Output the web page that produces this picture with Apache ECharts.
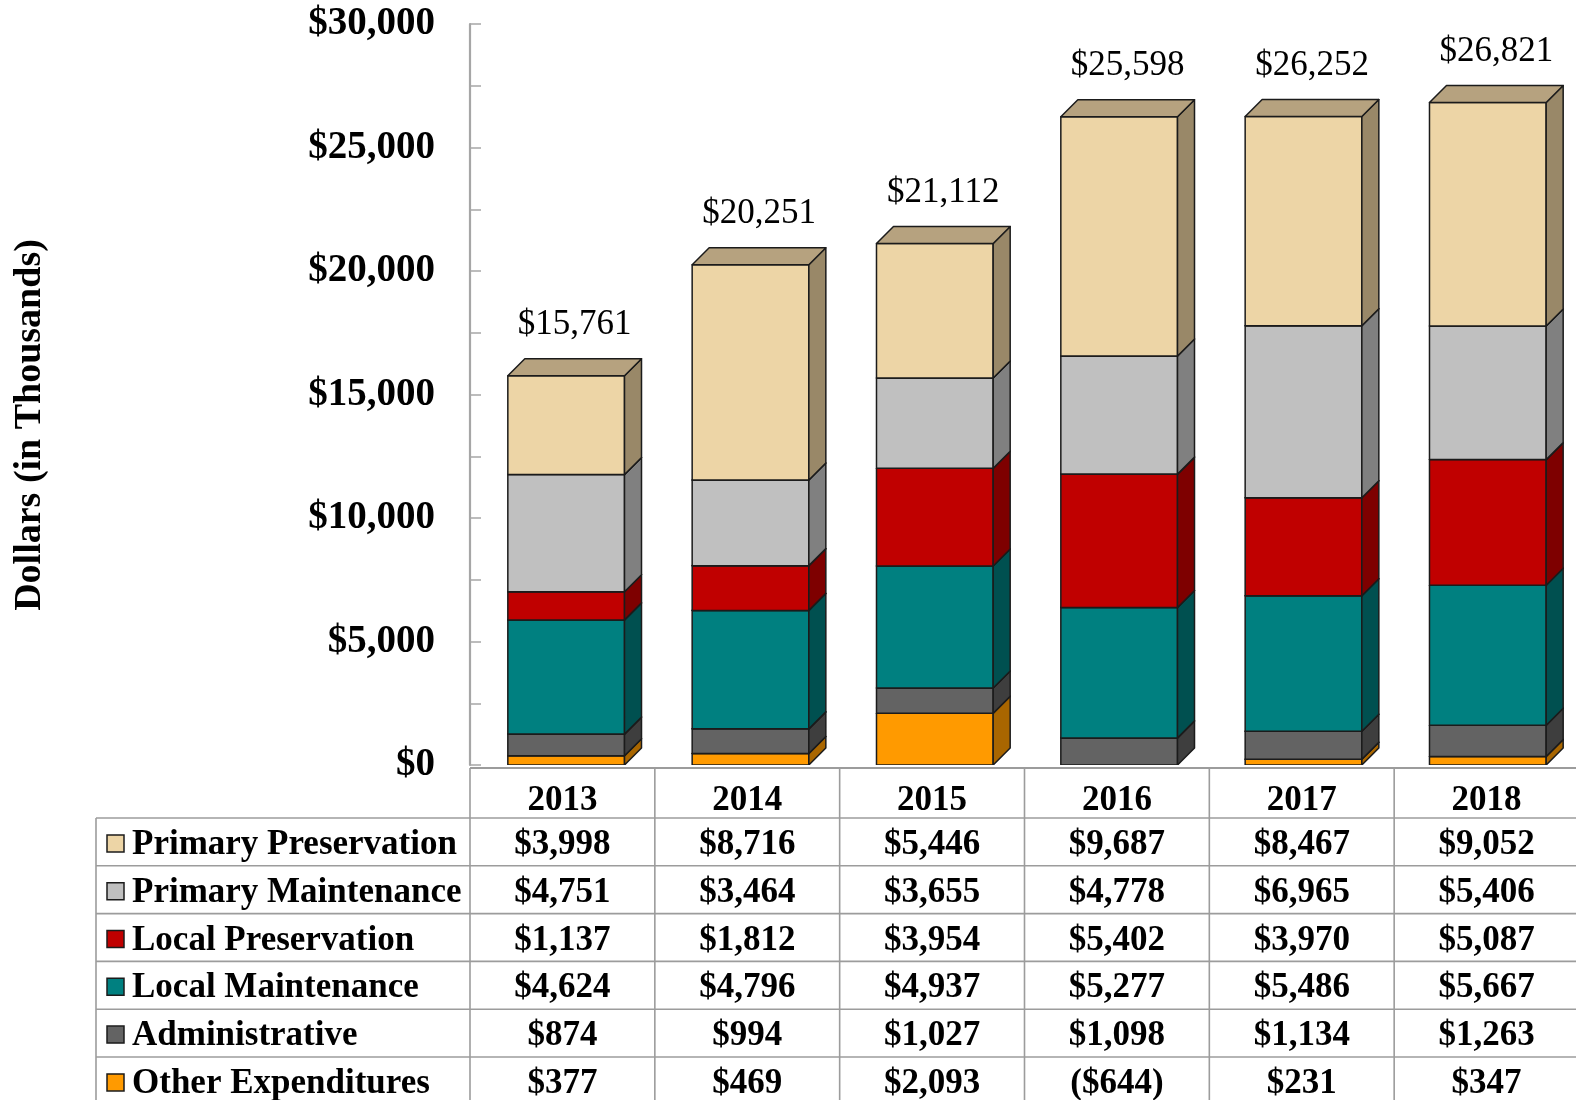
<!DOCTYPE html>
<html><head><meta charset="utf-8">
<script src="https://cdn.jsdelivr.net/npm/echarts@6/dist/echarts.min.js"></script>
<style>html,body{margin:0;padding:0;background:#fff}#c{width:1576px;height:1100px}</style>
</head><body><div id="c"></div>
<script>
// ---------------- data ----------------
var categories = ['2013', '2014', '2015', '2016', '2017', '2018'];
var primaryPreservation = [3998, 8716, 5446, 9687, 8467, 9052];
var primaryMaintenance  = [4751, 3464, 3655, 4778, 6965, 5406];
var localPreservation   = [1137, 1812, 3954, 5402, 3970, 5087];
var localMaintenance    = [4624, 4796, 4937, 5277, 5486, 5667];
var administrative      = [874, 994, 1027, 1098, 1134, 1263];
var otherExpenditures   = [377, 469, 2093, -644, 231, 347];
var totals              = [15761, 20251, 21112, 25598, 26252, 26821];
var yAxisMax = 30000;
var yAxisStep = 2500;
var yAxisLabelStep = 5000;

// ---------------- styles ----------------
var FONT = '"Liberation Serif", "Times New Roman", serif';
var series = [
  {name: 'Other Expenditures',   data: otherExpenditures,   front: '#FF9A00', side: '#A96600', top: '#C77C00'},
  {name: 'Administrative',       data: administrative,      front: '#636363', side: '#3E3E3E', top: '#505050'},
  {name: 'Local Maintenance',    data: localMaintenance,    front: '#008080', side: '#005050', top: '#006666'},
  {name: 'Local Preservation',   data: localPreservation,   front: '#C00000', side: '#7E0000', top: '#9A0000'},
  {name: 'Primary Maintenance',  data: primaryMaintenance,  front: '#C0C0C0', side: '#808080', top: '#A0A0A0'},
  {name: 'Primary Preservation', data: primaryPreservation, front: '#EDD5A6', side: '#998868', top: '#B6A27F'}
];

// stacking (positives up, negatives down)
var posBase = categories.map(function () { return 0; });
var negBase = categories.map(function () { return 0; });
series.forEach(function (s) {
  s.segs = s.data.map(function (v, i) {
    var lo, hi;
    if (v >= 0) { lo = posBase[i]; hi = lo + v; posBase[i] = hi; }
    else { hi = negBase[i]; lo = hi + v; negBase[i] = lo; }
    return [i, lo, hi];
  });
});

var GRID_LEFT = 470, GRID_TOP = 24, GRID_W = 1109, GRID_H = 741;
var BAND = GRID_W / categories.length;
var DEPTH = 17;
var BAR_RATIO = 0.633;
var OFFSET = 4;

function renderBox(s) {
  return function (params, api) {
    var cat = api.value(0), lo = api.value(1), hi = api.value(2);
    if (hi <= 0) { return null; } // below the floor: hidden behind the data table
    var p0 = api.coord([cat, lo]);
    var p1 = api.coord([cat, hi]);
    var band = api.size([1, 0])[0];
    var w = band * BAR_RATIO;
    var L = p0[0] - w / 2 + OFFSET, R = L + w;
    var yB = p0[1], yT = p1[1], d = DEPTH;
    var st = {stroke: '#1b1b1b', lineWidth: 1.5, lineJoin: 'round'};
    return {
      type: 'group',
      children: [
        {type: 'polygon', shape: {points: [[L, yB], [R, yB], [R, yT], [L, yT]]},
         style: Object.assign({fill: s.front}, st)},
        {type: 'polygon', shape: {points: [[R, yB], [R + d, yB - d], [R + d, yT - d], [R, yT]]},
         style: Object.assign({fill: s.side}, st)},
        {type: 'polygon', shape: {points: [[L, yT], [R, yT], [R + d, yT - d], [L + d, yT - d]]},
         style: Object.assign({fill: s.top}, st)}
      ]
    };
  };
}

function fmt(v) {
  var a = Math.abs(v).toString().replace(/\B(?=(\d{3})+(?!\d))/g, ',');
  return v < 0 ? '($' + a + ')' : '$' + a;
}

var chartSeries = series.map(function (s) {
  return {
    type: 'custom', name: s.name, clip: true,
    renderItem: renderBox(s),
    encode: {x: 0, y: [1, 2]},
    data: s.segs
  };
});
chartSeries.push({
  type: 'custom', name: 'Totals', clip: false, z: 10,
  renderItem: function (params, api) {
    var cat = api.value(0), top = api.value(1), tot = api.value(2);
    var p = api.coord([cat, top]);
    var cx = p[0] + OFFSET + DEPTH / 2;
    return {
      type: 'text',
      style: {x: cx, y: p[1] - DEPTH - 34, text: fmt(tot), align: 'center', verticalAlign: 'middle',
              font: 'normal 35px ' + FONT, fill: '#000'}
    };
  },
  encode: {x: 0, y: 1},
  data: categories.map(function (c, i) { return [i, posBase[i], totals[i]]; })
});

// ---------------- table graphics ----------------
var TABLE_TOP = 768, HEADER_BOTTOM = 818, ROW_H = 47.8, LABEL_LEFT = 96;
var LINE = {stroke: '#9c9c9c', lineWidth: 1.6};
var g = [];
var tableRight = GRID_LEFT + GRID_W;
var rows = series.slice().reverse();
g.push({type: 'line', shape: {x1: GRID_LEFT, y1: TABLE_TOP, x2: tableRight, y2: TABLE_TOP}, style: {stroke: '#9c9c9c', lineWidth: 2.2}});
for (var k = 0; k <= rows.length; k++) {
  var y = HEADER_BOTTOM + ROW_H * k;
  g.push({type: 'line', shape: {x1: LABEL_LEFT, y1: y, x2: tableRight, y2: y}, style: LINE});
}
g.push({type: 'line', shape: {x1: LABEL_LEFT, y1: HEADER_BOTTOM, x2: LABEL_LEFT, y2: 1100}, style: LINE});
for (var j = 0; j <= categories.length; j++) {
  var x = GRID_LEFT + BAND * j;
  g.push({type: 'line', shape: {x1: x, y1: TABLE_TOP, x2: x, y2: 1100}, style: LINE});
}
categories.forEach(function (c, j) {
  g.push({type: 'text', style: {x: GRID_LEFT + BAND * (j + 0.5), y: (TABLE_TOP + HEADER_BOTTOM) / 2 + 8,
    text: c, align: 'center', verticalAlign: 'middle', font: 'bold 35px ' + FONT, fill: '#000'}});
});
rows.forEach(function (s, k) {
  var cy = HEADER_BOTTOM + ROW_H * (k + 0.5) + 3;
  g.push({type: 'rect', shape: {x: 107, y: cy - 10, width: 17, height: 17},
    style: {fill: s.front, stroke: '#1b1b1b', lineWidth: 1.5}});
  g.push({type: 'text', style: {x: 132, y: cy, text: s.name, align: 'left', verticalAlign: 'middle',
    font: 'bold 35px ' + FONT, fill: '#000'}});
  s.data.forEach(function (v, j) {
    g.push({type: 'text', style: {x: GRID_LEFT + BAND * (j + 0.5), y: cy, text: fmt(v), align: 'center',
      verticalAlign: 'middle', font: 'bold 35px ' + FONT, fill: '#000'}});
  });
});
g.push({type: 'text', x: 30, y: 425, rotation: Math.PI / 2,
  style: {x: 0, y: 0, text: 'Dollars (in Thousands)', align: 'center', verticalAlign: 'middle',
          font: 'bold 38px ' + FONT, fill: '#000'}});

var chart = echarts.init(document.getElementById('c'), null, {renderer: 'canvas'});
chart.setOption({
  animation: false,
  backgroundColor: '#fff',
  grid: {left: GRID_LEFT, top: GRID_TOP, width: GRID_W, height: GRID_H, containLabel: false},
  xAxis: {
    type: 'category', data: categories,
    axisLine: {show: false}, axisTick: {show: false}, axisLabel: {show: false}, splitLine: {show: false}
  },
  yAxis: {
    type: 'value', min: 0, max: yAxisMax, interval: yAxisStep,
    axisLine: {show: true, lineStyle: {color: '#a6a6a6', width: 2.2}},
    axisTick: {show: true, inside: true, length: 11, lineStyle: {color: '#a6a6a6', width: 1.5}},
    splitLine: {show: false},
    axisLabel: {
      margin: 35, fontFamily: FONT, fontWeight: 'bold', fontSize: 39, color: '#000',
      formatter: function (v) { return v % yAxisLabelStep === 0 ? fmt(v) : ''; }
    }
  },
  series: chartSeries,
  graphic: g
});
</script></body></html>
